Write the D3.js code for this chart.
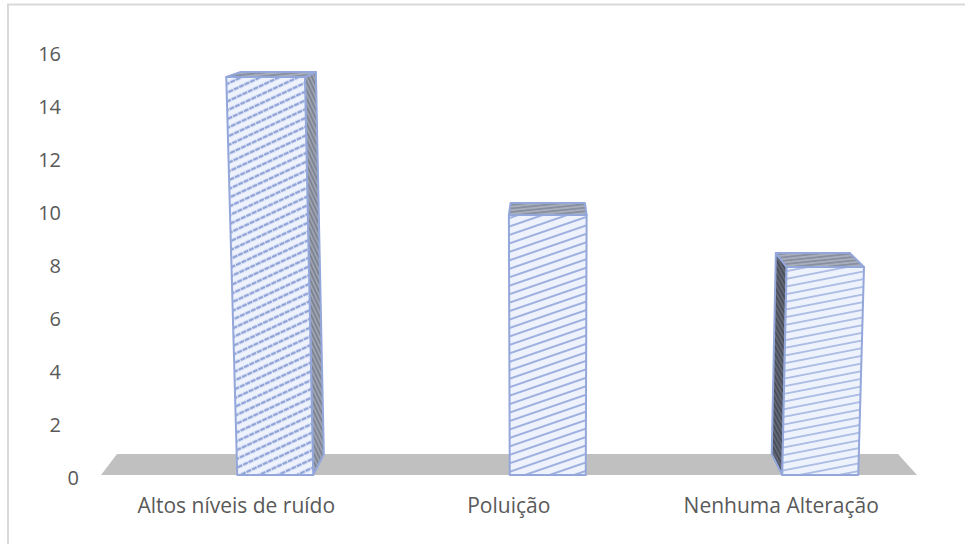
<!DOCTYPE html>
<html>
<head>
<meta charset="utf-8">
<script src="https://cdn.jsdelivr.net/npm/d3@7/dist/d3.min.js"></script>
<style>
html,body{margin:0;padding:0;background:#fff;overflow:hidden;}
svg{display:block;}
text{font-family:"Open Sans",sans-serif;fill:#595959;}
</style>
</head>
<body>
<svg id="chart" width="965" height="544"></svg>
<script>
const categories = ["Altos níveis de ruído", "Poluição", "Nenhuma Alteração"];
const values = [15, 10, 8];
const yTicks = [0, 2, 4, 6, 8, 10, 12, 14, 16];

const svg = d3.select("#chart");
const edge = "#94a7da";

// Value axis labels sit on a straight scale; the bars' front plane is slightly foreshortened
const yAxis = d3.scaleLinear().domain([0, 16]).range([477.5, 53.5]);
const yFront = d3.scaleLinear().domain([0, 10, 15]).range([475, 215, 77]);
const xFront = d3.scaleBand().domain(categories).range([139, 956.5]);
const xLabel = d3.scaleBand().domain(categories).range([100, 917.5]);
const barWidth = 76;

// Simple perspective: faces widen with height and recede towards a centre point
const cx = 548;
const widen = h => 1 + 8.9e-5 * h;
const recede = d3.scaleLinear().domain([77, 215, 268, 475]).range([5, 12, 14, 21]);
function project(x, v, back) {
  const yy = yFront(v);
  const h = yFront(0) - yy;
  const px = cx + (x - cx) * widen(h);
  if (!back) return [px, yy];
  return [cx + (px - cx) * 0.955, yy - recede(yy)];
}

// Hatch fills
const defs = svg.append("defs");
function hatch(id, bg, line, angle, gap, width, dash) {
  const p = defs.append("pattern").attr("id", id)
    .attr("patternUnits", "userSpaceOnUse")
    .attr("width", 12).attr("height", gap)
    .attr("patternTransform", `rotate(${angle})`);
  p.append("rect").attr("width", 12).attr("height", gap).attr("fill", bg);
  p.append("line").attr("x1", 0).attr("x2", 12)
    .attr("y1", gap / 2).attr("y2", gap / 2)
    .attr("stroke", line).attr("stroke-width", width)
    .attr("stroke-dasharray", dash);
}
hatch("frontHatch", "#eef2fc", "#8fa3d8", -25, 8, 2.4, "5.2 0.8");
hatch("frontHatchMid", "#eef2fc", "#9aaddf", -19, 8, 1.9, "none");
hatch("frontHatchFlat", "#eef2fc", "#a2b4e2", -11, 7.5, 1.6, "none");
hatch("sideHatch", "#9ea3b0", "#747b8c", 65, 3.5, 1.4, "none");
hatch("sideHatchDark", "#4a4e59", "#686e7e", 62, 3.5, 1.4, "none");
hatch("topHatch", "#a9aebb", "#80879a", -6, 3.5, 1.4, "none");

// Frame runs past the right and bottom edges of the page
svg.append("rect").attr("x", 8).attr("y", 4.5).attr("width", 975).attr("height", 560)
  .attr("fill", "#fff").attr("stroke", "#d9d9d9").attr("stroke-width", 2);

// Floor
const floorPts = [[101, 475], [917, 475], [898, 454], [117, 454]];
svg.append("path").attr("d", d3.line()(floorPts) + "Z").attr("fill", "#c0c0c0");

// Value axis labels; the zero label sits further right, at the floor's front corner
svg.append("g").selectAll("text").data(yTicks).join("text")
  .attr("x", d => d === 0 ? 79 : 61).attr("y", d => yAxis(d)).attr("dy", "0.36em")
  .attr("text-anchor", "end").attr("font-size", 20).text(d => d);

// Category labels
svg.append("g").selectAll("text").data(categories).join("text")
  .attr("x", d => xLabel(d) + xLabel.bandwidth() / 2).attr("y", 505)
  .attr("dy", "0.36em").attr("text-anchor", "middle").attr("font-size", 21)
  .text(d => d);

// Bars: receding side first, then top, then front
const bars = svg.append("g").selectAll("g")
  .data(categories.map((c, i) => ({ c, v: values[i], i })))
  .join("g");

function face(sel, pts, fill) {
  sel.append("path").attr("d", d3.line()(pts) + "Z")
    .attr("fill", fill).attr("stroke", edge)
    .attr("stroke-width", 2).attr("stroke-linejoin", "round");
}
const frontFills = ["url(#frontHatch)", "url(#frontHatchMid)", "url(#frontHatchFlat)"];
bars.each(function (d) {
  const g = d3.select(this);
  const c = xFront(d.c) + xFront.bandwidth() / 2;
  const l = c - barWidth / 2, r = c + barWidth / 2;
  const fl0 = project(l, 0), fr0 = project(r, 0);
  const flT = project(l, d.v), frT = project(r, d.v);
  const bl0 = project(l, 0, true), br0 = project(r, 0, true);
  const blT = project(l, d.v, true), brT = project(r, d.v, true);
  // which side shows depends on where the bar sits relative to the centre
  if (c < cx - 20) face(g, [fr0, frT, brT, br0], "url(#sideHatch)");
  if (c > cx + 20) face(g, [fl0, flT, blT, bl0], "url(#sideHatchDark)");
  face(g, [flT, frT, brT, blT], "url(#topHatch)");
  face(g, [fl0, fr0, frT, flT], frontFills[d.i]);
});
</script>
</body>
</html>
